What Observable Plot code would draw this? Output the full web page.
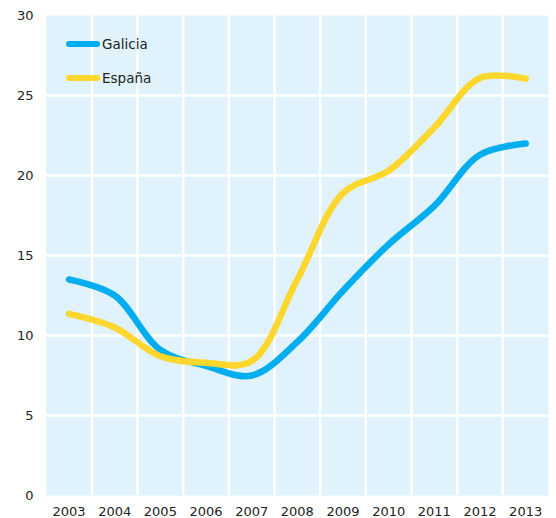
<!DOCTYPE html>
<html>
<head>
<meta charset="utf-8">
<script src="https://cdn.jsdelivr.net/npm/d3@7"></script>
<script src="https://cdn.jsdelivr.net/npm/@observablehq/plot@0.6"></script>
<style>
  body { margin: 0; background: #fff; font-family: "DejaVu Sans", sans-serif; }
  #wrap { position: relative; width: 556px; height: 518px; }
  .leg { position: absolute; left: 66px; display: flex; align-items: center; font-size: 13.5px; color: #222; }
  .leg span.sw { display: inline-block; width: 34px; height: 6px; border-radius: 3px; margin-right: 2px; }
</style>
</head>
<body>
<div id="wrap"></div>
<script>
const years = [2003, 2004, 2005, 2006, 2007, 2008, 2009, 2010, 2011, 2012, 2013];
const galicia = [13.5, 12.5, 9.1, 8.1, 7.5, 9.6, 12.8, 15.7, 18.1, 21.3, 22.0];
const espana  = [11.35, 10.5, 8.7, 8.3, 8.4, 13.5, 18.9, 20.3, 23.0, 26.1, 26.05];
const yTicks = [0, 5, 10, 15, 20, 25, 30];
const seriesNames = ["Galicia", "España"];
const seriesColors = ["#00aeef", "#fdd62e"];

const data = [
  ...years.map((y, i) => ({year: y, value: galicia[i], serie: seriesNames[0]})),
  ...years.map((y, i) => ({year: y, value: espana[i], serie: seriesNames[1]}))
];
const vGrid = years.slice(1).map(y => y - 0.5);
const hGrid = yTicks.filter(t => t > 0 && t < 30);

const chart = Plot.plot({
  width: 556,
  height: 518,
  marginLeft: 45.7,
  marginRight: 8,
  marginTop: 15,
  marginBottom: 23,
  style: {fontFamily: "DejaVu Sans, sans-serif", fontSize: "13px", color: "#222", background: "#fff"},
  x: {domain: [years[0] - 0.5, years[years.length - 1] + 0.5], ticks: years, tickFormat: d => String(d), tickSize: 0, tickPadding: 11.5, label: null},
  y: {domain: [0, 30], ticks: yTicks, tickSize: 0, tickPadding: 12.7, label: null},
  color: {domain: seriesNames, range: seriesColors},
  marks: [
    Plot.frame({fill: "#e0f2fb", stroke: null}),
    Plot.ruleX(vGrid, {stroke: "#fff", strokeWidth: 2.5}),
    Plot.ruleY(hGrid, {stroke: "#fff", strokeWidth: 2.5}),
    Plot.line(data, {x: "year", y: "value", z: "serie", stroke: "serie", strokeWidth: 6.5, curve: "catmull-rom", strokeLinecap: "round"}),
    Plot.axisX({ticks: years, tickFormat: d => String(d), tickSize: 0, tickPadding: 11.5, label: null}),
    Plot.axisY({ticks: yTicks, tickSize: 0, tickPadding: 12.7, label: null})
  ]
});
const wrap = document.getElementById("wrap");
wrap.appendChild(chart);
const tops = [43.5, 77.5];
seriesNames.forEach((n, i) => {
  const d = document.createElement("div");
  d.className = "leg";
  d.style.top = (tops[i] - 10) + "px";
  d.style.height = "20px";
  d.innerHTML = `<span class="sw" style="background:${seriesColors[i]}"></span>${n}`;
  wrap.appendChild(d);
});
</script>
</body>
</html>
